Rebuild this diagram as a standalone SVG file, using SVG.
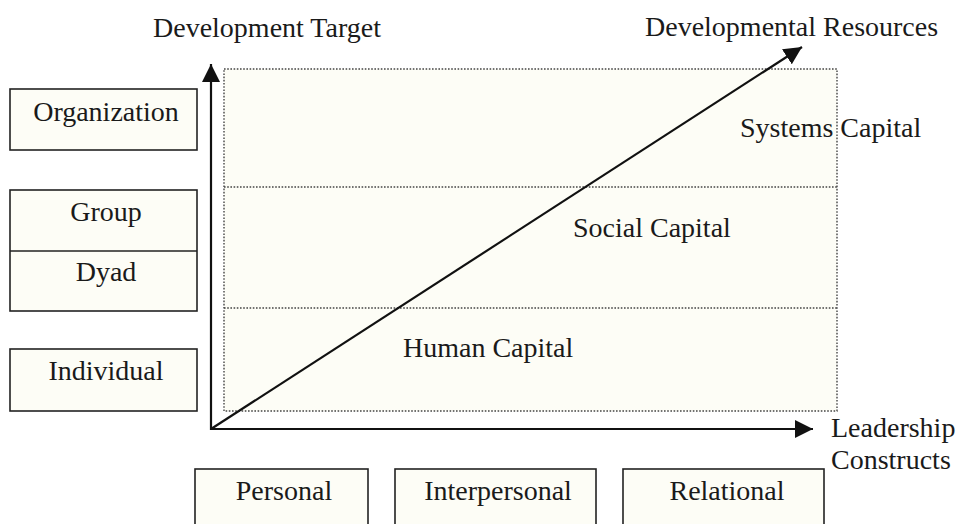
<svg xmlns="http://www.w3.org/2000/svg" width="958" height="524" viewBox="0 0 958 524">
  <defs>
    <marker id="arrow" markerUnits="userSpaceOnUse" viewBox="0 0 18 18" markerWidth="18" markerHeight="18" refX="18" refY="9" orient="auto">
      <path d="M0,0 L18,9 L0,18 z" fill="#111"/>
    </marker>
    <style>
      text { font-family: 'Liberation Serif', 'DejaVu Serif', serif; font-size: 28px; fill: #1a1a1a; }
      .box { fill: #fdfdf6; stroke: #222; stroke-width: 1.6; }
      .dot { fill: none; stroke: #444; stroke-width: 1.4; stroke-dasharray: 1.6 1.6; }
      .axis { fill: none; stroke: #111; stroke-width: 2.2; }
      .mid { text-anchor: middle; }
    </style>
  </defs>
  <rect width="958" height="524" fill="#ffffff"/>

  <g id="resource-area">
    <rect x="224" y="69" width="613" height="342" fill="#fdfdf6"/>
    <rect class="dot" x="224" y="69" width="613" height="342"/>
    <line class="dot" x1="224" y1="187" x2="837" y2="187"/>
    <line class="dot" x1="224" y1="308" x2="837" y2="308"/>
  </g>

  <g id="labels" font-family="Liberation Serif, DejaVu Serif, serif">
    <text x="153" y="37">Development Target</text>
    <text x="645" y="36">Developmental Resources</text>
    <text x="740" y="137">Systems Capital</text>
    <text x="573" y="237">Social Capital</text>
    <text x="403" y="357">Human Capital</text>
    <text x="831" y="437">Leadership</text>
    <text x="831" y="469">Constructs</text>
  </g>

  <g id="node-organization">
    <rect class="box" x="10" y="89" width="187" height="61"/>
    <text class="mid" x="106" y="121">Organization</text>
  </g>
  <g id="node-group-dyad">
    <rect class="box" x="10" y="190" width="187" height="121"/>
    <line x1="10" y1="251" x2="197" y2="251" stroke="#222" stroke-width="1.6"/>
    <text class="mid" x="106" y="221">Group</text>
    <text class="mid" x="106" y="281">Dyad</text>
  </g>
  <g id="node-individual">
    <rect class="box" x="10" y="349" width="187" height="62"/>
    <text class="mid" x="106" y="380">Individual</text>
  </g>
  <g id="node-personal">
    <rect class="box" x="195" y="469" width="173" height="70"/>
    <text class="mid" x="284" y="500">Personal</text>
  </g>
  <g id="node-interpersonal">
    <rect class="box" x="395" y="469" width="201" height="70"/>
    <text class="mid" x="498" y="500">Interpersonal</text>
  </g>
  <g id="node-relational">
    <rect class="box" x="623" y="469" width="201" height="70"/>
    <text class="mid" x="727" y="500">Relational</text>
  </g>

  <g id="connectors">
    <line class="axis" x1="211" y1="430" x2="211" y2="64" marker-end="url(#arrow)"/>
    <line class="axis" x1="210" y1="429" x2="813" y2="429" marker-end="url(#arrow)"/>
    <line class="axis" x1="211" y1="429" x2="802" y2="47" marker-end="url(#arrow)"/>
  </g>
</svg>
